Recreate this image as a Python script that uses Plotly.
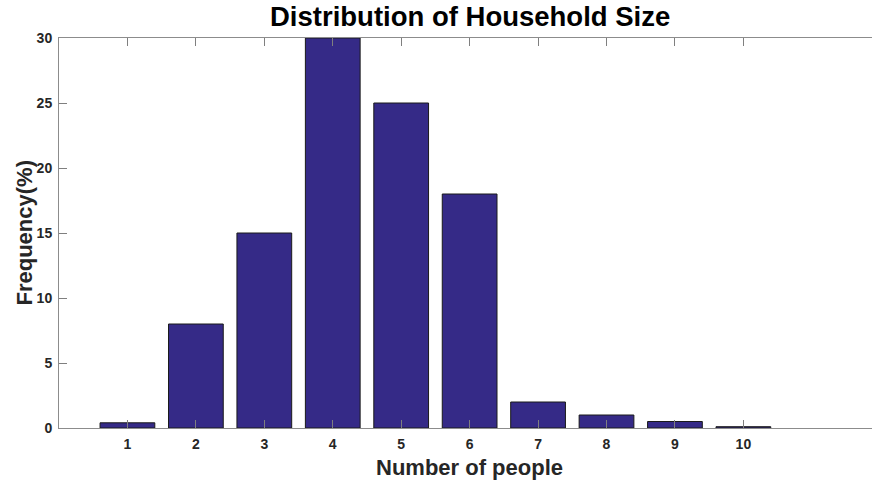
import plotly.graph_objects as go

people = [1, 2, 3, 4, 5, 6, 7, 8, 9, 10]
frequency = [0.4, 8, 15, 30, 25, 18, 2, 1, 0.5, 0.1]
y_ticks = [0, 5, 10, 15, 20, 25, 30]

W, H = 872, 483
ml, mt, mb = 58.5, 38, 55
plot_h = H - mt - mb
unit_px = 68.48                      # pixel width of one category step
x_max = (W - ml) / unit_px           # axis is cut off at the right edge

fig = go.Figure(go.Bar(
    x=people, y=frequency, width=0.8,
    marker=dict(color="rgb(53,42,135)", line=dict(color="#1a1a1a", width=1)),
))

font = "Arial, Liberation Sans, Helvetica, sans-serif"
fig.update_layout(
    width=W, height=H,
    margin=dict(l=ml, r=0, t=mt, b=mb, pad=0, autoexpand=False),
    plot_bgcolor="white", paper_bgcolor="white",
    showlegend=False,
    font=dict(family=font, color="#262626"),
    xaxis=dict(range=[0, x_max], tickvals=people, ticks="inside", ticklen=8,
               tickcolor="#7f7f7f", showline=True, linecolor="#8c8c8c", linewidth=1,
               mirror="ticks", showgrid=False, zeroline=False, automargin=False,
               ticklabelstandoff=3,
               tickfont=dict(size=14, family=font, color="#262626", weight="bold")),
    yaxis=dict(range=[0, 30], tickvals=y_ticks, ticks="inside", ticklen=8,
               tickcolor="#7f7f7f", showline=True, linecolor="#8c8c8c", linewidth=1,
               showgrid=False, zeroline=False, ticklabelstandoff=3, automargin=False,
               tickfont=dict(size=14, family=font, color="#262626", weight="bold")),
    annotations=[
        dict(text="Distribution of Household Size", x=6, xref="x",
             y=1 + (mt - 17) / plot_h, yref="paper",
             yanchor="middle", showarrow=False,
             font=dict(size=27.5, family=font, color="black", weight="bold")),
        dict(text="Number of people", x=6, xref="x", y=0, yref="paper",
             yanchor="top", yshift=-25, showarrow=False,
             font=dict(size=22, family=font, color="#262626", weight="bold")),
        dict(text="Frequency(%)", x=0, xref="paper", xshift=23 - ml, xanchor="center",
             y=0.5, yref="paper", yanchor="middle", textangle=-90, showarrow=False,
             font=dict(size=22, family=font, color="#262626", weight="bold")),
    ],
)

fig.write_html("out.html", config={"displayModeBar": False},
               post_script="document.body.style.margin='0px';document.body.style.overflow='hidden';")
